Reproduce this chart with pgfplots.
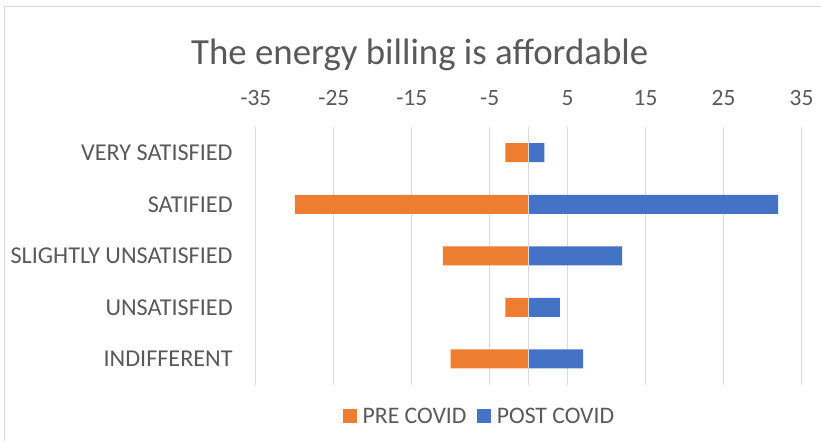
\documentclass[border=0pt]{standalone}
\usepackage{pgfplots}
\pgfplotsset{compat=1.18}
\usepackage{fontspec}
\setmainfont{Carlito}
\definecolor{txt}{HTML}{595959}
\definecolor{grd}{HTML}{D9D9D9}
\definecolor{org}{HTML}{ED7D31}
\definecolor{blu}{HTML}{4472C4}
\begin{document}
\begin{tikzpicture}
\path (0,0) rectangle (821bp,-441bp);
\draw[grd, line width=1bp] (4.7bp,-441bp) -- (4.7bp,-6.7bp) -- (821bp,-6.7bp);
\node[anchor=base, text=txt, font=\fontsize{37}{44}\selectfont, inner sep=0pt] at (420bp,-64.3bp) {The energy billing is affordable};
\begin{axis}[
  at={(256bp,-385bp)}, anchor=south west, scale only axis,
  width=546bp, height=258bp,
  xmin=-35, xmax=35, ymin=-0.5, ymax=4.5,
  xtick={-35,-25,...,35}, xticklabel pos=right,
  ytick={0,1,2,3,4},
  yticklabels={INDIFFERENT,UNSATISFIED,SLIGHTLY UNSATISFIED,SATIFIED,VERY SATISFIED},
  axis line style={draw=none}, major tick length=0pt,
  xmajorgrids, grid style={grd, line width=1.2bp},
  tick label style={text=txt, font=\fontsize{23.5}{28}\selectfont, inner sep=0pt},
  xticklabel style={anchor=base, yshift=21.5bp},
  yticklabel style={anchor=east, xshift=-23bp, font=\fontsize{24.3}{29}\selectfont},
  /pgf/number format/assume math mode=true,
  legend columns=2,
  legend style={at={(axis description cs:0.1588,-0.1202)}, anchor=west,
    draw=none, fill=none, inner sep=0pt,
    nodes={inner sep=0pt, text depth=0pt, text=txt, font=\fontsize{23.8}{28}\selectfont},
    /tikz/every even column/.append style={column sep=10.3bp},
    cells={anchor=west}},
]
\addplot[xbar, bar width=19bp, bar shift=0pt, fill=org, draw=none,
  legend image code/.code={\fill[org] (0bp,-6.8bp) rectangle (14bp,6.8bp); \path (20bp,0bp);}]
  coordinates {(-10,0) (-3,1) (-11,2) (-30,3) (-3,4)};
\addplot[xbar, bar width=19bp, bar shift=0pt, fill=blu, draw=none,
  legend image code/.code={\fill[blu] (0bp,-6.8bp) rectangle (14bp,6.8bp); \path (20bp,0bp);}]
  coordinates {(7,0) (4,1) (12,2) (32,3) (2,4)};
\draw[grd, line width=1.2bp] (axis cs:0,-0.5) -- (axis cs:0,4.5);
\legend{PRE COVID, POST COVID}
\end{axis}
\end{tikzpicture}
\end{document}
